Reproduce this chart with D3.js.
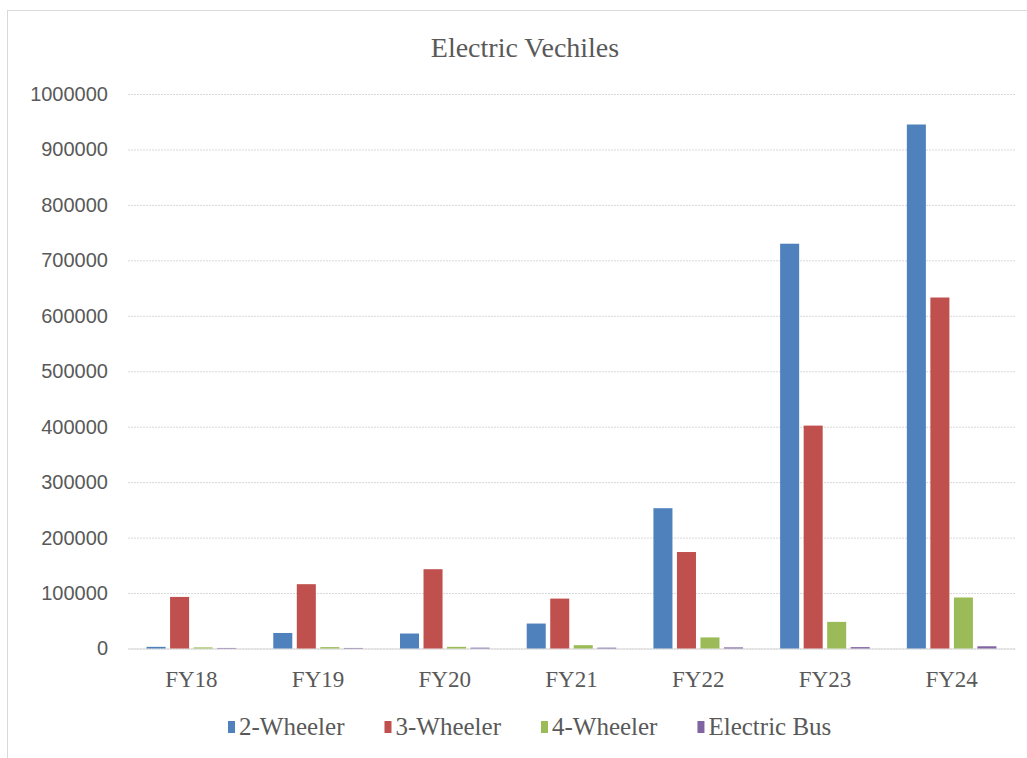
<!DOCTYPE html>
<html>
<head>
<meta charset="utf-8">
<script src="https://cdn.jsdelivr.net/npm/d3@7"></script>
<style>
  html, body { margin: 0; padding: 0; background: #ffffff; }
  svg { display: block; }
</style>
</head>
<body>
<svg id="chart" width="1027" height="758"></svg>
<script>
// Fiscal years on the x axis
const years = ["FY18", "FY19", "FY20", "FY21", "FY22", "FY23", "FY24"];
// Vehicle classes (one bar per class in each year)
const seriesNames = ["2-Wheeler", "3-Wheeler", "4-Wheeler", "Electric Bus"];
// Yearly electric vehicle sales per class
const twoWheeler   = [3000, 28000, 27000, 45000, 253000, 730000, 945000];
const threeWheeler = [93000, 116000, 143000, 90000, 174000, 402000, 633000];
const fourWheeler  = [2000, 2500, 3000, 6000, 20000, 48000, 92000];
const electricBus  = [1000, 1000, 1500, 1500, 2000, 2500, 4000];
// Value axis ticks
const yTicks = [0, 100000, 200000, 300000, 400000, 500000, 600000, 700000, 800000, 900000, 1000000];

const seriesValues = [twoWheeler, threeWheeler, fourWheeler, electricBus];
const colors = ["#4f81bd", "#c0504d", "#9bbb59", "#8064a2"];

const svg = d3.select("#chart");
const plot = { left: 128, right: 1015, top: 94, bottom: 648.5 };
const serif = "'Liberation Serif', 'Times New Roman', serif";

// Outer chart frame
svg.append("rect")
  .attr("x", 7.5).attr("y", 10.5)
  .attr("width", 1040).attr("height", 770)
  .attr("fill", "none")
  .attr("stroke", "#d9d9d9")
  .attr("stroke-width", 1);

// Title
svg.append("text")
  .attr("x", 525).attr("y", 57)
  .attr("text-anchor", "middle")
  .attr("font-family", serif)
  .attr("font-size", 28)
  .attr("fill", "#595959")
  .text("Electric Vechiles");

const x = d3.scaleBand()
  .domain(years)
  .range([plot.left, plot.right])
  .paddingInner(0.293)
  .paddingOuter(0.1465);

const xSub = d3.scaleBand()
  .domain(seriesNames)
  .range([0, x.bandwidth()])
  .paddingInner(0.191);

const y = d3.scaleLinear()
  .domain([0, 1000000])
  .range([plot.bottom, plot.top]);

// Horizontal gridlines and value labels
const yAxis = d3.axisLeft(y)
  .tickValues(yTicks)
  .tickFormat(d3.format("d"))
  .tickSize(-(plot.right - plot.left))
  .tickPadding(20);

const gy = svg.append("g")
  .attr("transform", `translate(${plot.left},0)`)
  .call(yAxis);
gy.select(".domain").remove();
gy.selectAll(".tick line")
  .attr("stroke", "#d9d9d9")
  .attr("stroke-width", 1)
  .attr("stroke-dasharray", "2,1");
gy.selectAll(".tick text")
  .attr("font-family", "'Liberation Sans', Arial, sans-serif")
  .attr("font-size", 20)
  .attr("fill", "#595959");

// Category axis labels
const gx = svg.append("g")
  .attr("transform", `translate(0,${plot.bottom})`)
  .call(d3.axisBottom(x).tickSize(0).tickPadding(22));
gx.select(".domain").attr("stroke", "#d9d9d9");
gx.selectAll(".tick text")
  .attr("font-family", serif)
  .attr("font-size", 23)
  .attr("fill", "#595959");

// Bars
const groups = svg.append("g").selectAll("g")
  .data(years.map((yr, i) => ({ yr, i })))
  .join("g")
  .attr("transform", d => `translate(${x(d.yr)},0)`);

groups.selectAll("rect")
  .data(d => seriesNames.map((name, s) => ({ name, s, v: seriesValues[s][d.i] })))
  .join("rect")
  .attr("x", d => xSub(d.name))
  .attr("width", xSub.bandwidth())
  .attr("y", d => y(d.v))
  .attr("height", d => y(0) - y(d.v))
  .attr("fill", d => colors[d.s]);

// Legend
const legend = svg.append("g");
let lx = 228;
seriesNames.forEach((name, s) => {
  legend.append("rect")
    .attr("x", lx).attr("y", 721)
    .attr("width", 7).attr("height", 12)
    .attr("fill", colors[s]);
  const t = legend.append("text")
    .attr("x", lx + 11).attr("y", 735)
    .attr("font-family", serif)
    .attr("font-size", 25)
    .attr("fill", "#595959")
    .text(name);
  lx += 11 + t.node().getComputedTextLength() + 40;
});
</script>
</body>
</html>
